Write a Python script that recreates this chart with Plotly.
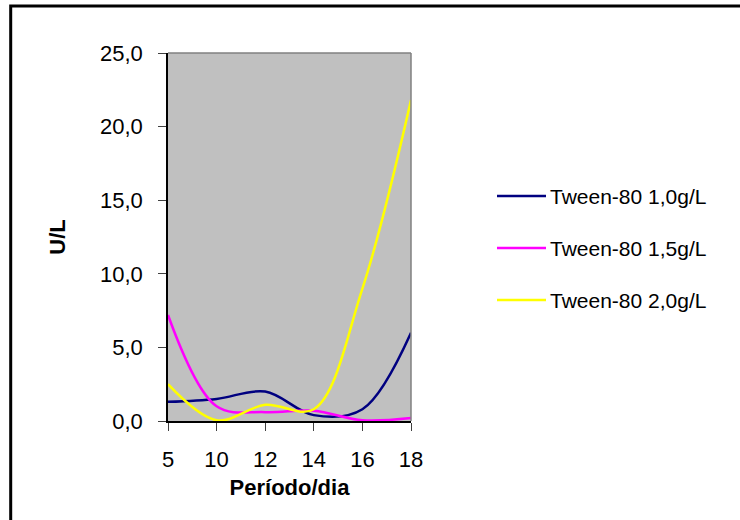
import plotly.graph_objects as go

# Sampling days (category axis) and activity values in U/L
days = ["5", "10", "12", "14", "16", "18"]
tween_1_0 = [1.3, 1.5, 2.0, 0.4, 0.8, 6.0]
tween_1_5 = [7.2, 1.0, 0.6, 0.7, 0.05, 0.2]
tween_2_0 = [2.5, 0.05, 1.1, 0.8, 9.0, 21.8]

series_names = ["Tween-80 1,0g/L", "Tween-80 1,5g/L", "Tween-80 2,0g/L"]
series_colors = ["#000080", "#FF00FF", "#FFFF00"]
series_values = [tween_1_0, tween_1_5, tween_2_0]

y_ticks = [0, 5, 10, 15, 20, 25]

FONT = "Arial, Liberation Sans, sans-serif"
FS = 22
FS_LEGEND = 21

# plot-area geometry in pixels
W, H = 740, 520
L, R, T, B = 168, 411, 53, 421
pw, ph = R - L, B - T


def px_x(x):
    return (x - L) / pw


def px_y(y):
    return (B - y) / ph


fig = go.Figure()
for name, color, vals in zip(series_names, series_colors, series_values):
    fig.add_trace(go.Scatter(
        x=days, y=vals, name=name, mode="lines",
        line=dict(color=color, width=2.5, shape="spline", smoothing=1.0),
        showlegend=False,
    ))

shapes = [
    # outer chart frame
    dict(type="rect", xref="paper", yref="paper",
         x0=px_x(10.7), x1=px_x(760), y0=px_y(540), y1=px_y(6),
         line=dict(color="black", width=3), fillcolor="rgba(0,0,0,0)", layer="below"),
    # plot-area border (top and right)
    dict(type="line", xref="paper", yref="paper", x0=0, x1=1, y0=1, y1=1,
         line=dict(color="#808080", width=1.5)),
    dict(type="line", xref="paper", yref="paper", x0=1, x1=1, y0=0, y1=1,
         line=dict(color="#808080", width=1.5)),
]

annotations = []
legend_rows = [196, 248, 300]
for name, color, ry in zip(series_names, series_colors, legend_rows):
    shapes.append(dict(type="line", xref="paper", yref="paper",
                       x0=px_x(497), x1=px_x(546), y0=px_y(ry), y1=px_y(ry),
                       line=dict(color=color, width=2.5)))
    annotations.append(dict(xref="paper", yref="paper", x=px_x(548), y=px_y(ry),
                            text=name, showarrow=False, xanchor="left", yanchor="middle",
                            font=dict(family=FONT, size=FS_LEGEND, color="black")))

fig.update_layout(
    width=W, height=H,
    margin=dict(l=L, r=W - R, t=T, b=H - B, autoexpand=False),
    paper_bgcolor="white",
    plot_bgcolor="#C0C0C0",
    separators=",.",
    font=dict(family=FONT, size=FS, color="black"),
    shapes=shapes,
    annotations=annotations,
    xaxis=dict(
        type="category", range=[0, len(days) - 1],
        showgrid=False, zeroline=False,
        showline=True, linecolor="black", linewidth=1.5,
        ticks="outside", ticklen=8, tickcolor="#404040", tickwidth=1,
        ticklabelstandoff=10,
        tickfont=dict(family=FONT, size=FS),
        title=dict(text="<b>Período/dia</b>", font=dict(family=FONT, size=FS), standoff=8),
        automargin=False,
    ),
    yaxis=dict(
        range=[0, 25], tickvals=y_ticks, tickformat=".1f",
        showgrid=False, zeroline=False,
        showline=True, linecolor="black", linewidth=1.5,
        ticks="outside", ticklen=8, tickcolor="#404040", tickwidth=1,
        ticklabelstandoff=11,
        tickfont=dict(family=FONT, size=FS),
        title=dict(text="<b>U/L</b>", font=dict(family=FONT, size=FS), standoff=28),
        automargin=False,
    ),
)

fig.write_html("out.html")
